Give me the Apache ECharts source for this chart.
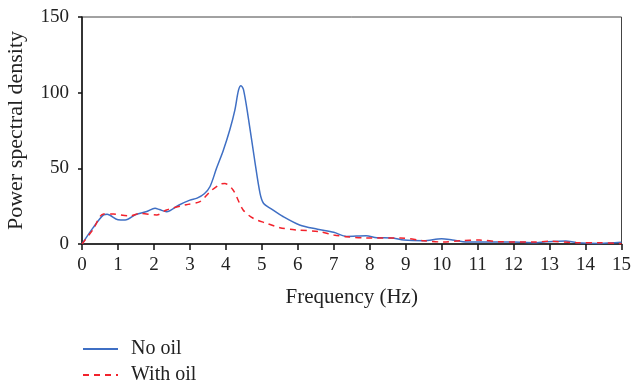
<!DOCTYPE html>
<html>
<head>
<meta charset="utf-8">
<script src="https://cdn.jsdelivr.net/npm/echarts@6/dist/echarts.min.js"></script>
<style>
  html, body { margin: 0; padding: 0; background: #fff; }
  #chart { width: 631px; height: 387px; }
</style>
</head>
<body>
<div id="chart"></div>
<script>
// Spectrum samples: frequency (Hz) and power spectral density
const noOilFreq = [0, 0.3, 0.6, 0.7, 1.0, 1.2, 1.5, 1.8, 2.03, 2.15, 2.35, 2.7, 3.0, 3.2, 3.4, 3.56, 3.74, 3.93, 4.11, 4.25, 4.35, 4.42, 4.49, 4.62, 4.8, 4.95, 5.05, 5.25, 5.6, 6.05, 6.55, 7.0, 7.36, 7.9, 8.2, 8.6, 8.95, 9.5, 10.0, 10.3, 10.7, 11.2, 12.0, 12.55, 12.9, 13.45, 13.75, 14.4, 15.0];
const noOilPsd = [0, 10.5, 19.2, 19.6, 16.0, 15.8, 19.5, 21.5, 23.6, 22.8, 21.3, 25.8, 29.0, 30.3, 33.2, 38.0, 50.0, 62.0, 75.5, 88.5, 101.5, 104.6, 102.0, 84.0, 55.5, 33.5, 26.8, 23.4, 18.0, 12.6, 9.8, 7.7, 5.0, 5.5, 4.1, 4.0, 2.6, 2.2, 3.5, 2.6, 1.3, 1.3, 1.3, 0.9, 1.5, 2.0, 0.9, 0.4, 1.1];

const withOilFreq = [0, 0.3, 0.6, 0.87, 1.33, 1.6, 2.08, 2.35, 2.9, 3.28, 3.56, 3.84, 3.97, 4.2, 4.48, 4.76, 5.13, 5.5, 5.96, 6.6, 7.0, 7.36, 7.9, 8.85, 9.5, 10.05, 10.5, 11.05, 11.6, 12.55, 13.0, 13.75, 14.4, 15.0];
const withOilPsd = [0, 9.3, 19.9, 19.8, 18.5, 20.2, 19.2, 22.5, 26.0, 28.0, 34.6, 39.5, 40.0, 35.7, 22.5, 17.0, 13.7, 10.8, 9.3, 8.2, 6.0, 4.8, 4.0, 4.0, 2.2, 1.3, 2.2, 2.6, 1.5, 1.3, 1.8, 0.9, 0.9, 0.2];

const freqTicks = { min: 0, max: 15, interval: 1 };
const psdTicks = { min: 0, max: 150, interval: 50 };

const seriesNames = ['No oil', 'With oil'];

const pairs = (xs, ys) => xs.map((x, i) => [x, ys[i]]);

const serif = '"Liberation Serif", "DejaVu Serif", serif';

const chart = echarts.init(document.getElementById('chart'), null, { renderer: 'canvas' });
chart.setOption({
  backgroundColor: '#fff',
  animation: false,
  textStyle: { fontFamily: serif },
  grid: {
    left: 82, right: 9.5, top: 17, bottom: 143,
    containLabel: false,
    outerBoundsMode: 'none',
    show: true, borderColor: '#444', borderWidth: 1, backgroundColor: 'transparent'
  },
  legend: {
    orient: 'vertical',
    left: 82,
    top: 338,
    padding: 0,
    itemWidth: 35,
    itemHeight: 14,
    itemGap: 4,
    itemStyle: { opacity: 0 },
    textStyle: { fontFamily: serif, fontSize: 20, color: '#222', lineHeight: 22, padding: [0, 0, 0, 8] },
    data: seriesNames
  },
  xAxis: {
    type: 'value',
    min: freqTicks.min, max: freqTicks.max, interval: freqTicks.interval,
    name: 'Frequency (Hz)',
    nameLocation: 'middle',
    nameGap: 43,
    nameTextStyle: { fontFamily: serif, fontSize: 21, color: '#222' },
    axisLine: { lineStyle: { color: '#111', width: 1.5 } },
    axisTick: { show: true, length: 6, lineStyle: { color: '#111', width: 1.5 } },
    axisLabel: { fontFamily: serif, fontSize: 19, color: '#222', margin: 12 },
    splitLine: { show: false }
  },
  yAxis: {
    type: 'value',
    min: psdTicks.min, max: psdTicks.max, interval: psdTicks.interval,
    name: 'Power spectral density',
    nameLocation: 'middle',
    nameGap: 55,
    nameTextStyle: { fontFamily: serif, fontSize: 22, color: '#222' },
    axisLine: { show: true, lineStyle: { color: '#111', width: 1.5 } },
    axisTick: { show: true, length: 4, lineStyle: { color: '#111', width: 1.5 } },
    axisLabel: { fontFamily: serif, fontSize: 19, color: '#222', margin: 13 },
    splitLine: { show: false }
  },
  series: [
    {
      name: seriesNames[0],
      type: 'line',
      data: pairs(noOilFreq, noOilPsd),
      smooth: 0.3,
      symbol: 'none',
      lineStyle: { color: '#3f6fc4', width: 1.5 },
      itemStyle: { color: '#3f6fc4' },
      z: 3
    },
    {
      name: seriesNames[1],
      type: 'line',
      data: pairs(withOilFreq, withOilPsd),
      smooth: 0.3,
      symbol: 'none',
      lineStyle: { color: '#f2222c', width: 1.5, type: [6, 5] },
      itemStyle: { color: '#f2222c' },
      z: 4
    }
  ]
});
</script>
</body>
</html>
